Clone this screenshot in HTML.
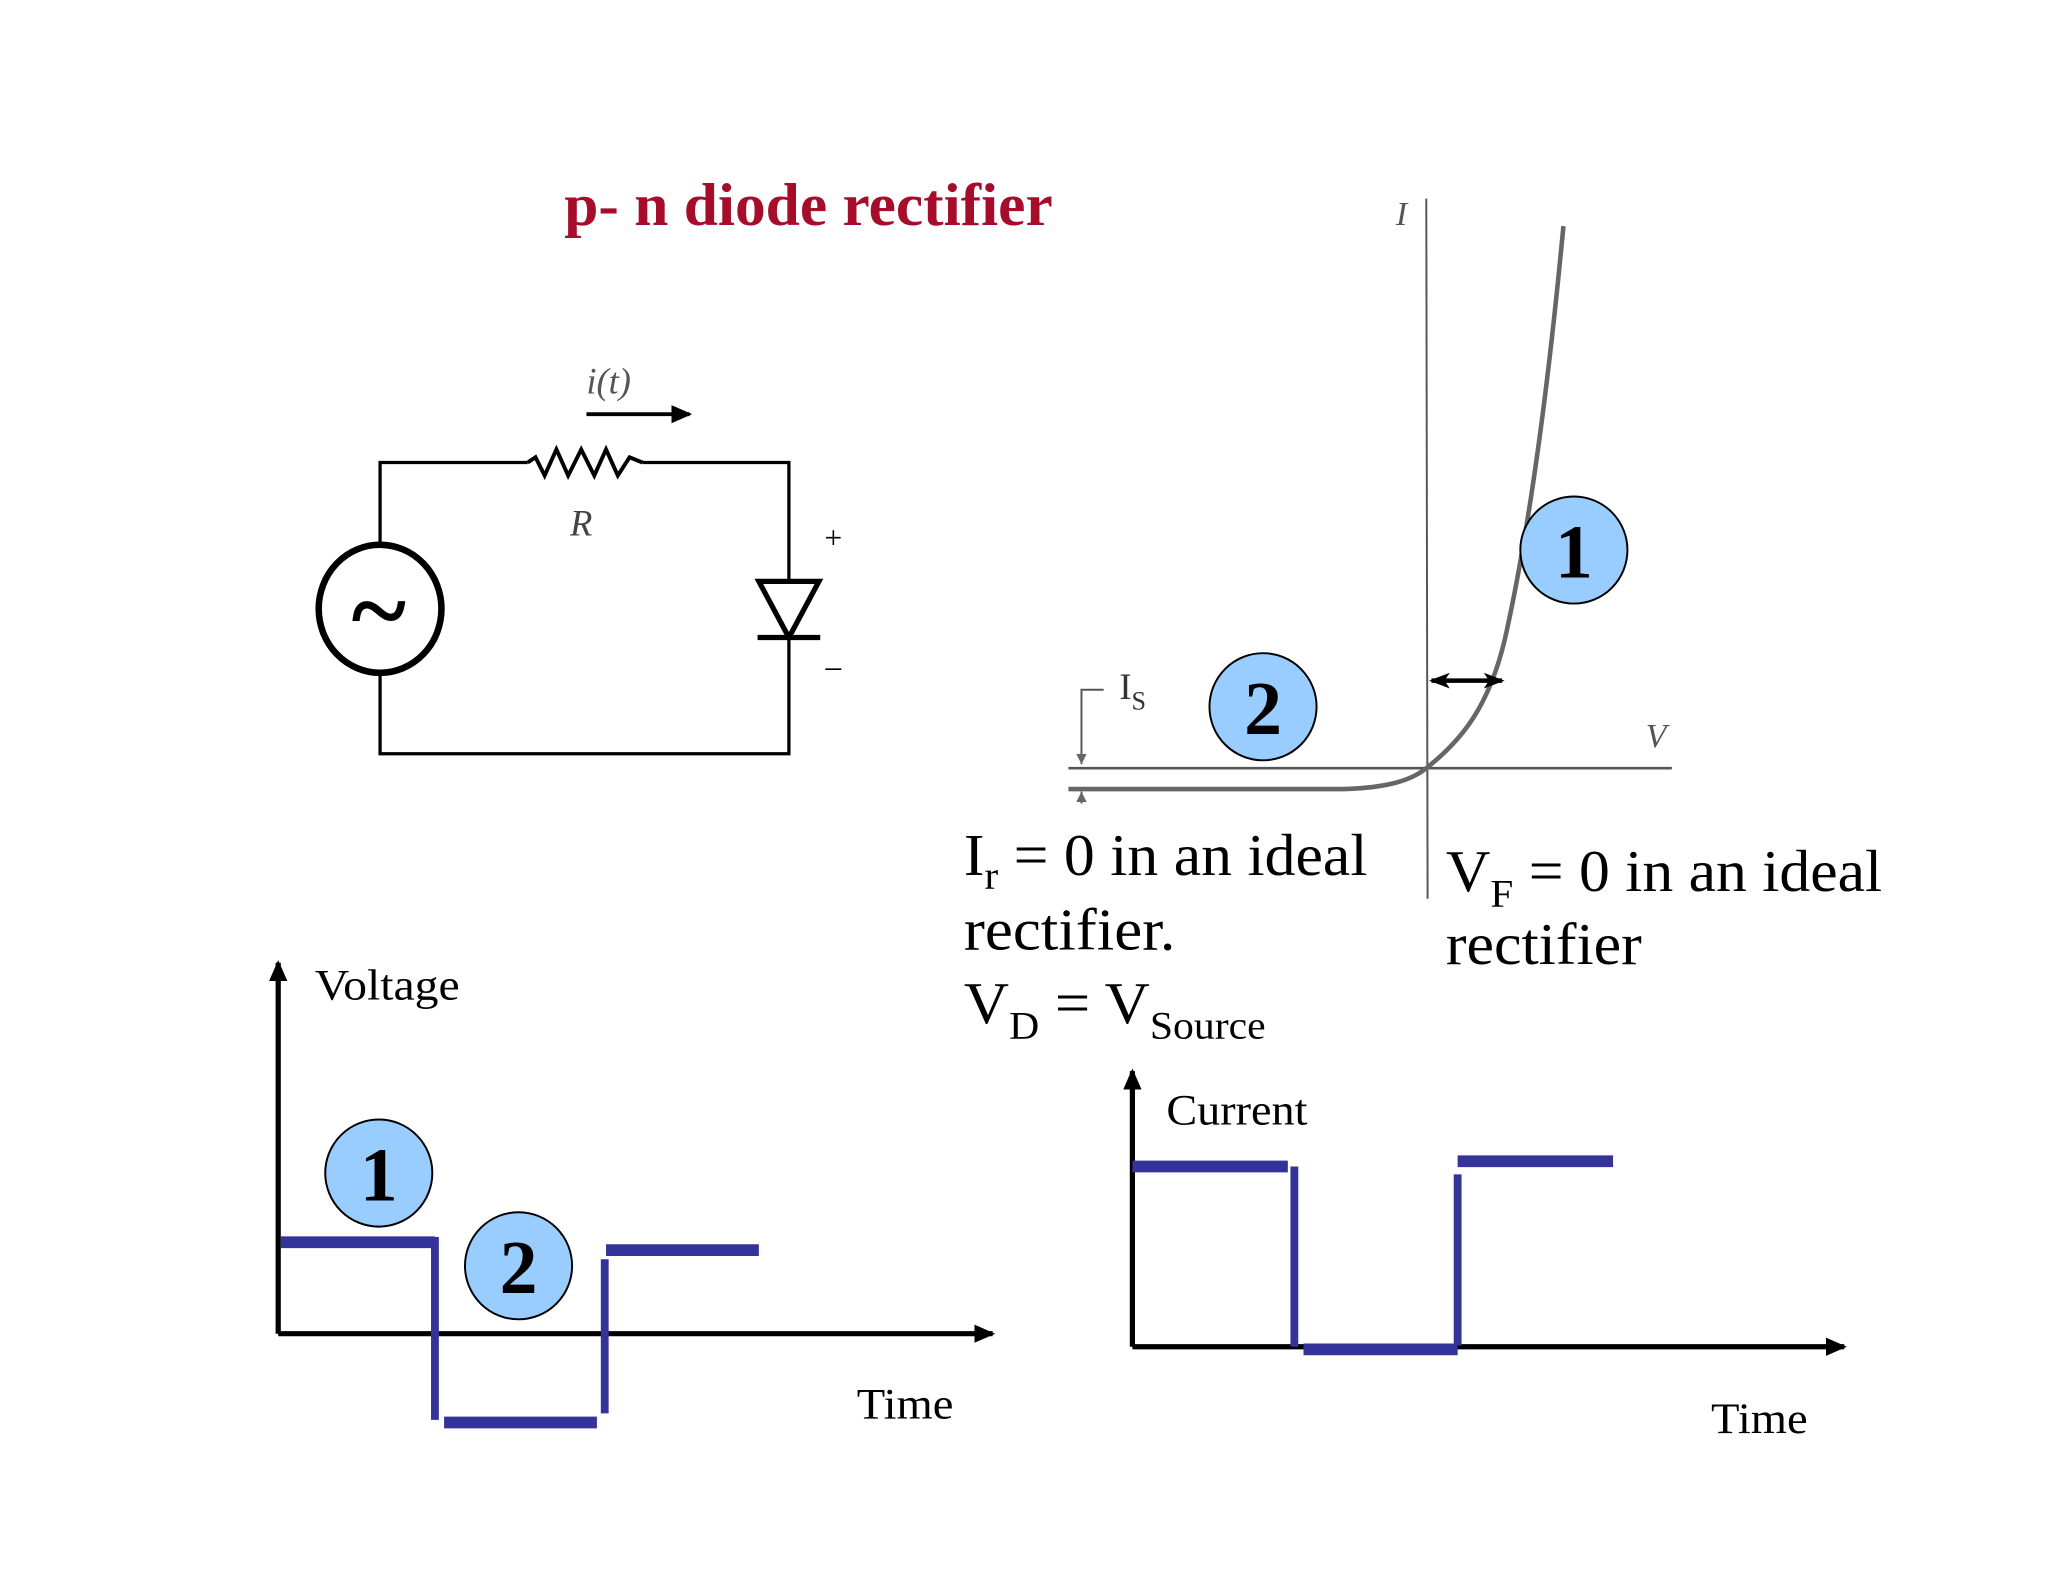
<!DOCTYPE html>
<html><head><meta charset="utf-8"><style>
html,body{margin:0;padding:0;background:#fff;}
svg{display:block;}
text{font-family:"Liberation Serif",serif;}
</style></head><body>
<svg width="2048" height="1582" viewBox="0 0 1568 1211" xmlns="http://www.w3.org/2000/svg">
<defs>
<marker id="ahb" markerWidth="16" markerHeight="14" refX="14" refY="7" orient="auto" markerUnits="userSpaceOnUse"><path d="M0,0 L16,7 L0,14 Z" fill="#000"/></marker>
<marker id="ahs" markerWidth="16" markerHeight="12" refX="14" refY="6" orient="auto-start-reverse" markerUnits="userSpaceOnUse"><path d="M0,0 L16,6 L0,12 L4,6 Z" fill="#000"/></marker>
<marker id="ahg" markerWidth="8" markerHeight="10" refX="8" refY="5" orient="auto" markerUnits="userSpaceOnUse"><path d="M0,1 L8,5 L0,9 Z" fill="#666"/></marker>
</defs>
<rect width="1568" height="1211" fill="#fff"/>
<text x="432" y="172" font-size="46" font-weight="bold" fill="#a50d2b" textLength="374" lengthAdjust="spacingAndGlyphs">p- n diode rectifier</text>

<g stroke="#000" fill="none" stroke-width="2.5">
<polyline points="404,354 291,354 291,418"/>
<polyline points="291,515 291,577 604,577 604,488"/>
<polyline points="492,354 604,354 604,445"/>
<polyline points="404,354 410,350 417,364 426,344 435,364 445,344 455,364 464,344 473,364 482,350 492,354" stroke-width="3"/>
<ellipse cx="291" cy="466" rx="47" ry="49" stroke-width="5"/>
<polygon points="581,445 627,445 604,488" stroke-width="4"/>
<line x1="580" y1="488" x2="628" y2="488" stroke-width="4"/>
<line x1="449" y1="317" x2="528" y2="317" stroke-width="3" marker-end="url(#ahb)"/>
</g>
<text x="290" y="494" font-size="80" font-weight="bold" text-anchor="middle">~</text>
<text x="466" y="301" font-size="28" font-style="italic" fill="#555" text-anchor="middle">i(t)</text>
<text x="445" y="410" font-size="28" font-style="italic" fill="#444" text-anchor="middle">R</text>
<text x="638" y="420" font-size="24" text-anchor="middle">+</text>
<text x="638" y="518" font-size="24" text-anchor="middle">–</text>

<g stroke="#555" fill="none">
<line x1="1092" y1="152" x2="1093" y2="688" stroke-width="1.5"/>
<line x1="818" y1="588" x2="1280" y2="588" stroke-width="2"/>
<path d="M818,604 L1030,604 C1060,603 1080,598 1092,588 C1120,566 1140,540 1152,490 C1170,410 1185,300 1197,173" stroke-width="3.5" stroke="#666"/>
<polyline points="845,528 828,528 828,585" stroke-width="1.5" marker-end="url(#ahg)"/>
<line x1="828" y1="615" x2="828" y2="606" stroke-width="1.5" marker-end="url(#ahg)"/>
</g>
<text x="1073" y="172" font-size="26" font-style="italic" fill="#555" text-anchor="middle">I</text>
<text x="1268" y="572" font-size="26" font-style="italic" fill="#555" text-anchor="middle">V</text>
<text x="857" y="535" font-size="28" fill="#333">I<tspan font-size="20" dy="8">S</tspan></text>
<line x1="1096" y1="521" x2="1150" y2="521" stroke="#000" stroke-width="3.5" marker-start="url(#ahs)" marker-end="url(#ahs)"/>
<g stroke="#000" stroke-width="1.5" fill="#99ccff">
<circle cx="1205" cy="421" r="41"/>
<circle cx="967" cy="541" r="41"/>
<circle cx="290" cy="898" r="41"/>
<circle cx="397" cy="969" r="41"/>
</g>
<g font-size="58" font-weight="bold" text-anchor="middle">
<text x="1205" y="442">1</text><text x="967" y="562">2</text>
<text x="290" y="919">1</text><text x="397" y="990">2</text>
</g>
<g font-size="45">
<text x="738" y="670" textLength="309" lengthAdjust="spacingAndGlyphs">I<tspan font-size="30" dy="10">r</tspan><tspan dy="-10"> = 0 in an ideal</tspan></text>
<text x="738" y="727" textLength="162" lengthAdjust="spacingAndGlyphs">rectifier.</text>
<text x="738" y="783" textLength="231" lengthAdjust="spacingAndGlyphs">V<tspan font-size="30" dy="12">D</tspan><tspan dy="-12"> = V</tspan><tspan font-size="30" dy="12">Source</tspan></text>
<text x="1107" y="682" textLength="334" lengthAdjust="spacingAndGlyphs">V<tspan font-size="30" dy="12">F</tspan><tspan dy="-12"> = 0 in an ideal</tspan></text>
<text x="1107" y="738" textLength="150" lengthAdjust="spacingAndGlyphs">rectifier</text>
</g>

<g stroke="#000" stroke-width="4" fill="none">
<line x1="213" y1="1021" x2="213" y2="737" marker-end="url(#ahb)"/>
<line x1="213" y1="1021" x2="760" y2="1021" marker-end="url(#ahb)"/>
<line x1="867" y1="1031" x2="867" y2="820" marker-end="url(#ahb)"/>
<line x1="867" y1="1031" x2="1412" y2="1031" marker-end="url(#ahb)"/>
</g>
<text x="241" y="765" font-size="33" textLength="111" lengthAdjust="spacingAndGlyphs">Voltage</text>
<text x="656" y="1086" font-size="33" textLength="74" lengthAdjust="spacingAndGlyphs">Time</text>
<text x="893" y="861" font-size="33" textLength="108" lengthAdjust="spacingAndGlyphs">Current</text>
<text x="1310" y="1097" font-size="33" textLength="74" lengthAdjust="spacingAndGlyphs">Time</text>
<g stroke="#333399" fill="none">
<line x1="215" y1="951" x2="333" y2="951" stroke-width="9"/>
<line x1="333" y1="947" x2="333" y2="1087" stroke-width="6"/>
<line x1="340" y1="1089" x2="457" y2="1089" stroke-width="9"/>
<line x1="463" y1="964" x2="463" y2="1082" stroke-width="6"/>
<line x1="464" y1="957" x2="581" y2="957" stroke-width="9"/>
<line x1="867" y1="893" x2="986" y2="893" stroke-width="9"/>
<line x1="991" y1="893" x2="991" y2="1031" stroke-width="6"/>
<line x1="998" y1="1033" x2="1116" y2="1033" stroke-width="9"/>
<line x1="1116" y1="899" x2="1116" y2="1030" stroke-width="6"/>
<line x1="1116" y1="889" x2="1235" y2="889" stroke-width="9"/>
</g>
</svg>
</body></html>
